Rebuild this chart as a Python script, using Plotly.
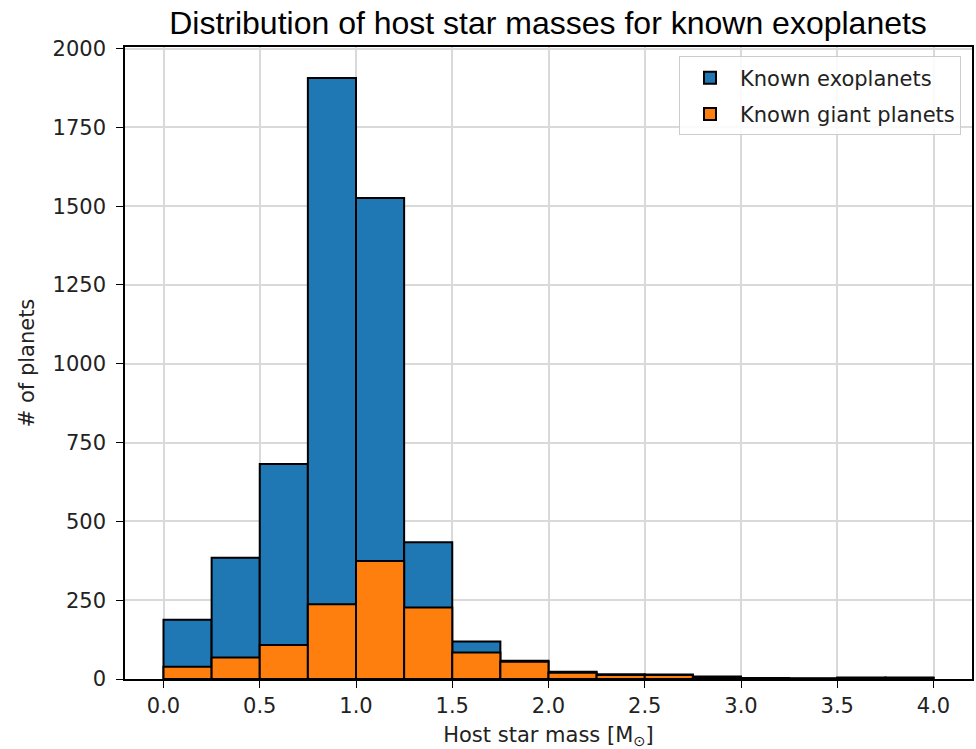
import plotly.graph_objects as go

bin_edges = [0.0, 0.25, 0.5, 0.75, 1.0, 1.25, 1.5, 1.75, 2.0, 2.25, 2.5, 2.75, 3.0, 3.25, 3.5, 3.75, 4.0]
all_planets = [188, 385, 682, 1907, 1526, 434, 119, 58, 23, 15, 14, 8, 3, 2, 5, 5]
giant_planets = [39, 68, 108, 237, 374, 227, 84, 55, 20, 13, 13, 4, 1, 1, 3, 3]

centers = [(a + b) / 2 for a, b in zip(bin_edges[:-1], bin_edges[1:])]
widths = [b - a for a, b in zip(bin_edges[:-1], bin_edges[1:])]

fig = go.Figure()
fig.add_trace(go.Bar(x=centers, y=all_planets, width=widths, name="Known exoplanets",
                     legendgroup="a",
                     marker=dict(color="#1f77b4", line=dict(color="black", width=2))))
fig.add_trace(go.Bar(x=centers, y=giant_planets, width=widths, name="Known giant planets",
                     legendgroup="b",
                     marker=dict(color="#ff7f0e", line=dict(color="black", width=2))))

tick_font = dict(family="DejaVu Sans", size=21, color="#222")
fig.update_layout(
    width=976, height=749,
    margin=dict(l=125, r=2, t=47, b=70),
    barmode="overlay",
    plot_bgcolor="white", paper_bgcolor="white",
    title=dict(text="Distribution of host star masses for known exoplanets",
               font=dict(family="Liberation Sans", size=32, color="black"),
               x=0.5615, xanchor="center", y=0.97, yanchor="middle"),
    legend=dict(x=0.987, xanchor="right", y=0.985, yanchor="top",
                font=dict(family="DejaVu Sans", size=21, color="#222"),
                bgcolor="rgba(255,255,255,0.85)", bordercolor="#cccccc", borderwidth=1,
                itemwidth=50, tracegroupgap=6),
    showlegend=True,
)
fig.update_xaxes(range=[-0.2, 4.2], tickvals=[0, 0.5, 1, 1.5, 2, 2.5, 3, 3.5, 4],
                 ticktext=["0.0", "0.5", "1.0", "1.5", "2.0", "2.5", "3.0", "3.5", "4.0"],
                 showgrid=True, gridcolor="#d9d9d9", gridwidth=1.5,
                 showline=True, linecolor="black", linewidth=1.5, mirror=True,
                 ticks="outside", ticklen=7, tickcolor="black", tickfont=tick_font,
                 title=dict(text="Host star mass [M<sub>⊙</sub>]", font=tick_font, standoff=11),
                 zeroline=False)
fig.update_yaxes(range=[0, 2005], tickvals=[0, 250, 500, 750, 1000, 1250, 1500, 1750, 2000],
                 showgrid=True, gridcolor="#d9d9d9", gridwidth=1.5,
                 showline=True, linecolor="black", linewidth=1.5, mirror=True,
                 ticks="outside", ticklen=7, tickcolor="black", tickfont=tick_font,
                 ticklabelstandoff=6,
                 title=dict(text="# of planets", font=tick_font, standoff=12),
                 zeroline=False)

fig.write_html("out.html")
